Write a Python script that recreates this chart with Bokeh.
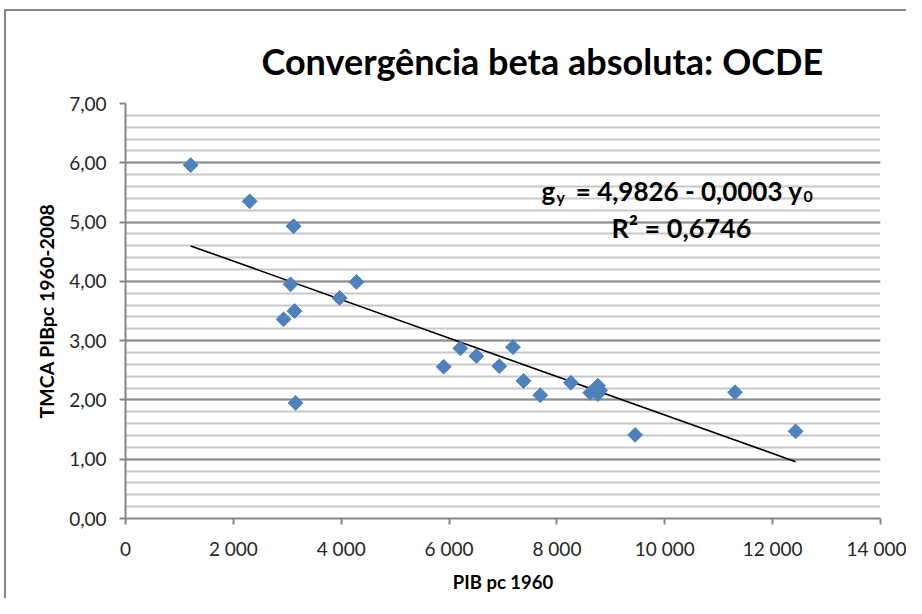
import numpy as np
from bokeh.plotting import figure
from bokeh.models import FixedTicker, Label, Title
from bokeh.embed import file_html
from bokeh.resources import INLINE

# ---- data ----
pib_1960 = [1209, 2302, 3117, 3061, 2931, 3135, 3154, 3969, 4283, 5900, 6209, 6506,
            6931, 7185, 7381, 7691, 8259, 8617, 8759, 8802, 8759, 9450, 11302, 12426]
tmca = [5.96, 5.35, 4.93, 3.95, 3.36, 3.50, 1.95, 3.72, 3.99, 2.56, 2.87, 2.74,
        2.57, 2.89, 2.32, 2.08, 2.29, 2.12, 2.24, 2.16, 2.10, 1.41, 2.13, 1.47]

x_ticks = [0, 2000, 4000, 6000, 8000, 10000, 12000, 14000]
x_tick_labels = ["0", "2 000", "4 000", "6 000", "8 000", "10 000", "12 000", "14 000"]
y_ticks = [0, 1, 2, 3, 4, 5, 6, 7]
y_tick_labels = ["0,00", "1,00", "2,00", "3,00", "4,00", "5,00", "6,00", "7,00"]
y_minor = [round(i * 0.2, 1) for i in range(36)]

title_text = "Convergência beta absoluta: OCDE"
x_label = "PIB pc 1960"
y_label = "TMCA PIBpc 1960-2008"

FONT = "Lato"

p = figure(width=906, height=598, output_backend="svg", toolbar_location=None,
           x_range=(0, 14000), y_range=(0, 7),
           min_border_left=125, min_border_right=26, min_border_top=103, min_border_bottom=80)

p.outline_line_color = None
p.background_fill_color = "white"
p.border_fill_color = None
# chart-area border (left and top edges visible, as in the reference)
p.styles = {
    "background": ("linear-gradient(#868686, #868686) 4px 9px / 2px 100% no-repeat, "
                   "linear-gradient(#868686, #868686) 4px 9px / 100% 2px no-repeat, white")
}

# title
p.add_layout(Title(text=title_text, text_font=FONT, text_font_size="36px",
                   text_font_style="bold", text_color="#000000",
                   align="left", offset=136, standoff=41), "above")

# axes
p.xaxis.ticker = FixedTicker(ticks=x_ticks)
p.xaxis.major_label_overrides = {v: s for v, s in zip(x_ticks, x_tick_labels)}
p.yaxis.ticker = FixedTicker(ticks=y_ticks, minor_ticks=y_minor)
p.yaxis.major_label_overrides = {v: s for v, s in zip(y_ticks, y_tick_labels)}

for ax in (p.xaxis, p.yaxis):
    ax.axis_line_color = "#868686"
    ax.axis_line_width = 2
    ax.major_tick_line_color = "#868686"
    ax.major_tick_line_width = 2
    ax.major_tick_out = 6
    ax.major_tick_in = 0
    ax.minor_tick_line_color = None
    ax.major_label_text_font = FONT
    ax.major_label_text_font_size = "19px"
    ax.major_label_text_color = "#262626"
    ax.axis_label_text_font = FONT
    ax.axis_label_text_font_style = "bold"
    ax.axis_label_text_color = "#000000"

p.xaxis.axis_label = x_label
p.yaxis.axis_label = y_label
p.xaxis.axis_label_text_font_size = "18.5px"
p.yaxis.axis_label_text_font_size = "19.5px"
p.xaxis.major_label_standoff = 12
p.xaxis.axis_label_standoff = 8
p.yaxis.major_label_standoff = 13
p.yaxis.axis_label_standoff = 8

p.xgrid.grid_line_color = None
p.ygrid.grid_line_color = "#8c8c8c"
p.ygrid.grid_line_width = 2
p.ygrid.minor_grid_line_color = "#c8c8c8"
p.ygrid.minor_grid_line_width = 2

# trend line (least squares fit over the data)
xs = np.array(pib_1960, dtype=float)
ys = np.array(tmca, dtype=float)
slope, intercept = np.polyfit(xs, ys, 1)
x_line = [xs.min(), xs.max()]
y_line = [intercept + slope * v for v in x_line]
p.line(x_line, y_line, line_color="black", line_width=1.6)

# points (Excel-like diamonds)
p.scatter(pib_1960, tmca, marker="square", angle=np.pi / 4, size=10.5,
          fill_color="#4F81BD", line_color="#4F81BD")

# equation annotations
eq_kw = dict(text_font=FONT, text_font_style="bold", text_color="#000000",
             text_baseline="alphabetic", x_units="canvas", y_units="canvas")
p.add_layout(Label(x=541, y=190, text="g", text_align="left", text_font_size="26px", **eq_kw))
p.add_layout(Label(x=556, y=196, text="y", text_align="left", text_font_size="16px", **eq_kw))
p.add_layout(Label(x=802, y=190, text="= 4,9826 - 0,0003 y", text_align="right",
                   text_font_size="26px", **eq_kw))
p.add_layout(Label(x=803, y=196, text="0", text_align="left", text_font_size="16px", **eq_kw))
p.add_layout(Label(x=681, y=227, text="R² = 0,6746", text_align="center",
                   text_font_size="27px", **eq_kw))

open("out.html", "w").write(file_html(p, INLINE))
